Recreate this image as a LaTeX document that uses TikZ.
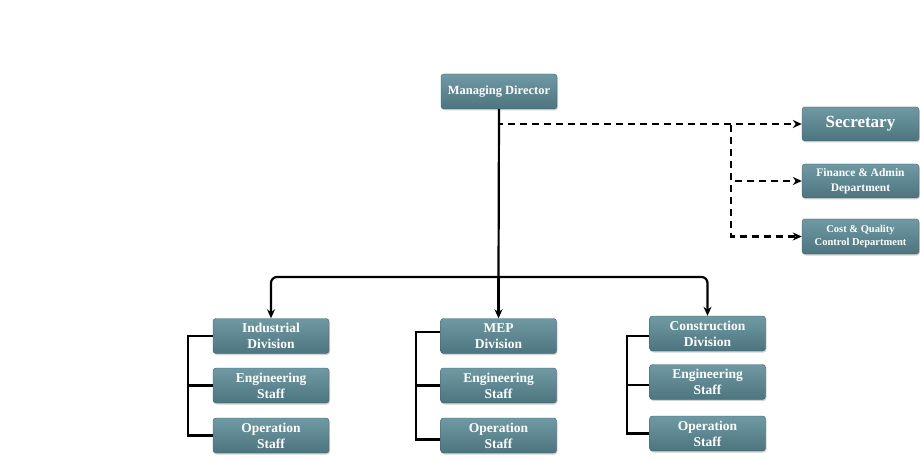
\documentclass[tikz,border=0pt]{standalone}
\usepackage{fontspec}
\setmainfont{Liberation Serif}
\usetikzlibrary{arrows.meta,shadows,positioning}
\definecolor{boxtop}{HTML}{6F99A3}
\definecolor{boxbot}{HTML}{4C7580}
\tikzset{
  box/.style={draw=boxbot!80!black, line width=0.4pt, rounded corners=3pt,
    top color=boxtop, bottom color=boxbot, text=white,
    font=\bfseries, align=center, inner sep=0pt,
    drop shadow={shadow xshift=1pt, shadow yshift=-1.5pt, opacity=0.35}},
  conn/.style={line width=2.2pt, black},
  dconn/.style={line width=2.2pt, black, dash pattern=on 7pt off 5pt},
  tip/.style={-{Stealth[length=9pt,width=8pt]}},
}
\begin{document}
\begin{tikzpicture}[x=1pt,y=-1pt]
\useasboundingbox (0,0) rectangle (920,462);
% top
\node[box, minimum width=116pt, minimum height=35pt, font=\bfseries\fontsize{12.5}{14}\selectfont] (md) at (499,91.5) {Managing Director};
\node[box, minimum width=117pt, minimum height=34pt, font=\bfseries\fontsize{17}{19}\selectfont] (sec) at (860.5,124) {Secretary};
\node[box, minimum width=117pt, minimum height=34pt, font=\bfseries\fontsize{11.5}{14.5}\selectfont] (fin) at (860.5,181) {Finance \& Admin\\Department};
\node[box, minimum width=117pt, minimum height=35pt, font=\bfseries\fontsize{10.5}{13}\selectfont] (cost) at (860.5,236.5) {Cost \& Quality\\Control Department};
% divisions
\tikzset{dv/.style={box, minimum width=116pt, minimum height=35pt, font=\bfseries\fontsize{13.5}{16}\selectfont}}
\node[dv] (ind) at (271,336) {Industrial\\Division};
\node[dv] (eng1) at (271,385.5) {Engineering\\Staff};
\node[dv] (op1) at (271,435.5) {Operation\\Staff};
\node[dv] (mep) at (498.5,336) {MEP\\Division};
\node[dv] (eng2) at (498.5,385.5) {Engineering\\Staff};
\node[dv] (op2) at (498.5,435.5) {Operation\\Staff};
\node[dv] (con) at (707.5,333.5) {Construction\\Division};
\node[dv] (eng3) at (707.5,382) {Engineering\\Staff};
\node[dv] (op3) at (707.5,433.5) {Operation\\Staff};
% trunk
\coordinate (j) at (498.5,277);
\coordinate (dj) at (731,125);
\draw[conn] (md.south) -- (j);
\draw[conn, tip, rounded corners=6pt] (j) -| (ind.north);
\draw[conn, tip] (j) -- (mep.north);
\draw[conn, tip, rounded corners=6pt] (j) -| (con.north);
% dashed
\draw[dconn, tip] (md.south) |- (sec.west);
\draw[dconn, tip] (dj) |- (fin.west);
\draw[dconn, tip] (dj) |- (cost.west);
% brackets
\draw[conn] (ind.west) -- ++(-25,0) coordinate (b1) |- (op1.west);
\draw[conn] (eng1.west) -- (eng1.west -| b1);
\draw[conn] (mep.west) ++(0,-4) -- ++(-24,0) coordinate (b2) |- ([yshift=-4pt]op2.west);
\draw[conn] (eng2.west) -- (eng2.west -| b2);
\draw[conn] (con.west) ++(0,2.5) -- ++(-22,0) coordinate (b3) |- (op3.west);
\draw[conn] (eng3.west) ++(0,3) -- ++(-22,0);
\end{tikzpicture}
\end{document}
